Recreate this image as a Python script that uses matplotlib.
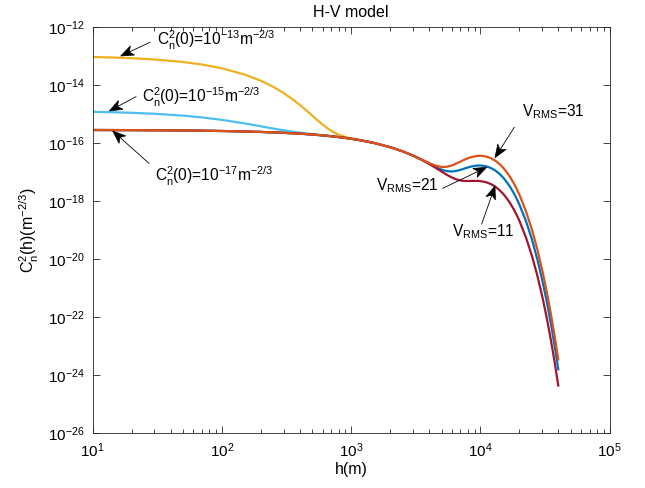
import matplotlib
matplotlib.use('Agg')
import matplotlib.pyplot as plt
from matplotlib.patches import Polygon
from matplotlib.lines import Line2D
from matplotlib.ticker import FixedLocator, NullLocator, LogLocator, NullFormatter
import math

plt.rcParams['font.family'] = ['Liberation Sans', 'DejaVu Sans']
plt.rcParams['mathtext.fontset'] = 'custom'
plt.rcParams['mathtext.rm'] = 'Liberation Sans'
plt.rcParams['mathtext.it'] = 'Liberation Sans:italic'
plt.rcParams['mathtext.bf'] = 'Liberation Sans:bold'

# ---------------- data ----------------
h = [10, 15, 20, 30, 50, 70, 100, 150, 200, 250, 300, 350, 400, 450, 500,
     550, 600, 650, 700, 750, 800, 900, 1000, 1200, 1500, 2000, 2500, 3000,
     3500, 4000, 4500, 5000, 5500, 6000, 6500, 7000, 7500, 8000, 8500, 9000,
     9500, 10000, 11000, 12000, 13000, 14000, 15000, 16000, 17000, 18000,
     19000, 20000, 22500, 25000, 27500, 30000, 32500, 35000, 37500, 40000]

cn2_a13 = [9.075e-14, 8.634e-14, 8.214e-14, 7.435e-14, 6.091e-14, 4.992e-14,
           3.704e-14, 2.256e-14, 1.377e-14, 8.437e-15, 5.200e-15, 3.234e-15,
           2.038e-15, 1.311e-15, 8.673e-16, 5.958e-16, 4.289e-16, 3.253e-16,
           2.605e-16, 2.191e-16, 1.919e-16, 1.605e-16, 1.431e-16, 1.219e-16,
           9.93e-17]

cn2_a15 = [1.1730e-15, 1.1280e-15, 1.0851e-15, 1.0055e-15, 8.676e-16, 7.543e-16,
           6.205e-16, 4.674e-16, 3.716e-16, 3.107e-16, 2.709e-16, 2.440e-16,
           2.251e-16, 2.111e-16, 2.002e-16, 1.912e-16, 1.835e-16, 1.765e-16,
           1.702e-16, 1.643e-16, 1.587e-16, 1.483e-16, 1.3865e-16, 1.2131e-16,
           9.93e-17]

cn2_v11 = [2.773e-16, 2.759e-16, 2.746e-16, 2.721e-16, 2.672e-16, 2.627e-16,
           2.563e-16, 2.465e-16, 2.377e-16, 2.294e-16, 2.216e-16, 2.141e-16,
           2.070e-16, 2.001e-16, 1.936e-16, 1.871e-16, 1.810e-16, 1.750e-16,
           1.693e-16, 1.638e-16, 1.584e-16, 1.482e-16, 1.386e-16, 1.213e-16,
           9.93e-17, 7.12e-17, 5.10e-17,
           3.653e-17, 2.626e-17, 1.895e-17, 1.3815e-17, 1.0280e-17, 7.922e-18,
           6.423e-18, 5.539e-18, 5.076e-18, 4.890e-18, 4.855e-18, 4.884e-18,
           4.912e-18, 4.899e-18, 4.820e-18, 4.447e-18, 3.841e-18, 3.119e-18,
           2.395e-18, 1.751e-18, 1.226e-18, 8.261e-19, 5.378e-19, 3.395e-19,
           2.085e-19, 5.547e-20, 1.306e-20, 2.780e-21, 5.448e-22, 9.955e-23,
           1.715e-23, 2.806e-24, 4.392e-25]

cn2_v21 = [2.773e-16, 2.759e-16, 2.746e-16, 2.721e-16, 2.672e-16, 2.627e-16,
           2.563e-16, 2.465e-16, 2.377e-16, 2.294e-16, 2.216e-16, 2.141e-16,
           2.070e-16, 2.001e-16, 1.936e-16, 1.871e-16, 1.810e-16, 1.750e-16,
           1.693e-16, 1.638e-16, 1.584e-16, 1.482e-16, 1.386e-16, 1.213e-16,
           9.93e-17, 7.12e-17, 5.10e-17,
           3.661e-17, 2.648e-17, 1.945e-17, 1.4801e-17, 1.1995e-17, 1.0621e-17,
           1.0331e-17, 1.0816e-17, 1.1792e-17, 1.3011e-17, 1.4247e-17, 1.5328e-17,
           1.6132e-17, 1.6584e-17, 1.6658e-17, 1.5743e-17, 1.3761e-17, 1.1243e-17,
           8.667e-18, 6.351e-18, 4.453e-18, 3.002e-18, 1.956e-18, 1.235e-18,
           7.589e-19, 2.022e-19, 4.759e-20, 1.013e-20, 1.986e-21, 3.628e-22,
           6.250e-23, 1.023e-23, 1.601e-24]

cn2_v31 = [2.773e-16, 2.759e-16, 2.746e-16, 2.721e-16, 2.672e-16, 2.627e-16,
           2.563e-16, 2.465e-16, 2.377e-16, 2.294e-16, 2.216e-16, 2.141e-16,
           2.070e-16, 2.001e-16, 1.936e-16, 1.871e-16, 1.810e-16, 1.750e-16,
           1.693e-16, 1.638e-16, 1.584e-16, 1.482e-16, 1.386e-16, 1.213e-16,
           9.93e-17, 7.12e-17, 5.10e-17,
           3.673e-17, 2.683e-17, 2.026e-17, 1.6404e-17, 1.4783e-17, 1.5007e-17,
           1.6681e-17, 1.9392e-17, 2.2706e-17, 2.6208e-17, 2.9509e-17, 3.2301e-17,
           3.4364e-17, 3.5573e-17, 3.5894e-17, 3.4097e-17, 2.9880e-17, 2.4446e-17,
           1.8858e-17, 1.3825e-17, 9.695e-18, 6.538e-18, 4.260e-18, 2.691e-18,
           1.653e-18, 4.406e-19, 1.037e-19, 2.208e-20, 4.327e-21, 7.907e-22,
           1.362e-22, 2.229e-23, 3.488e-24]

x_ticks = [1e1, 1e2, 1e3, 1e4, 1e5]
x_ticklabels = [r'$10^{1}$', r'$10^{2}$', r'$10^{3}$', r'$10^{4}$', r'$10^{5}$']
y_ticks = [1e-26, 1e-24, 1e-22, 1e-20, 1e-18, 1e-16, 1e-14, 1e-12]
y_ticklabels = [r'$10^{-26}$', r'$10^{-24}$', r'$10^{-22}$', r'$10^{-20}$',
                r'$10^{-18}$', r'$10^{-16}$', r'$10^{-14}$', r'$10^{-12}$']

# ---------------- figure ----------------
W, H = 645, 488
fig = plt.figure(figsize=(W / 100, H / 100), dpi=100)
ax = fig.add_axes([92.7 / W, 1 - 433.3 / H, (609.7 - 92.7) / W, (433.3 - 26.7) / H])

lw = 1.6
ax.loglog(h[:len(cn2_a13)], cn2_a13, color='#EDB120', lw=lw)
ax.loglog(h[:len(cn2_a15)], cn2_a15, color='#4DBEEE', lw=lw)
ax.loglog(h, cn2_v21, color='#0072BD', lw=lw)
ax.loglog(h, cn2_v11, color='#A2142F', lw=lw)
ax.loglog(h, cn2_v31, color='#D95319', lw=lw)

ax.set_xlim(1e1, 1e5)
ax.set_ylim(1e-26, 1e-12)
ax.xaxis.set_major_locator(FixedLocator(x_ticks))
ax.set_xticklabels(x_ticklabels)
ax.xaxis.set_minor_locator(LogLocator(base=10, subs=range(2, 10)))
ax.xaxis.set_minor_formatter(NullFormatter())
ax.yaxis.set_major_locator(FixedLocator(y_ticks))
ax.set_yticklabels(y_ticklabels)
ax.yaxis.set_minor_locator(NullLocator())

axc = '#262626'
for s in ax.spines.values():
    s.set_color(axc)
    s.set_linewidth(0.6)
ax.tick_params(which='both', direction='in', top=True, right=True, color=axc,
               labelcolor='black', labelsize=11, width=0.6)
ax.tick_params(which='major', length=5, pad=6)
ax.tick_params(which='minor', length=3)

ax.set_title('H-V model', fontsize=11.5, pad=7)
ax.set_xlabel('h(m)', fontsize=11.5, labelpad=1)
ax.set_ylabel(r'C$\mathregular{_n^2}$(h)(m$\mathregular{^{-2/3}}$)', fontsize=11.5, labelpad=5)


def P(px, py):
    return (px / W, 1 - py / H)


def draw_arrow(tail, tip, L=13.0, w=5.0, notch=3.5):
    ux, uy = tip[0] - tail[0], tip[1] - tail[1]
    n = math.hypot(ux, uy)
    ux, uy = ux / n, uy / n
    px_, py_ = -uy, ux
    bx, by = tip[0] - L * ux, tip[1] - L * uy
    nx, ny = tip[0] - (L - notch) * ux, tip[1] - (L - notch) * uy
    fig.add_artist(Line2D([P(*tail)[0], P(nx, ny)[0]], [P(*tail)[1], P(nx, ny)[1]],
                          transform=fig.transFigure, color='black', lw=0.6))
    pts = [P(*tip), P(bx + w * px_, by + w * py_), P(nx, ny), P(bx - w * px_, by - w * py_)]
    fig.add_artist(Polygon(pts, closed=True, transform=fig.transFigure,
                           facecolor='black', edgecolor='black', lw=0.5))


annots = [
    # text, text pos (left, center-y), arrow tail, arrow tip
    (r'C$\mathregular{_n^2}$(0)=10$\mathregular{^{-13}}$m$\mathregular{^{-2/3}}$', (156.7, 40), (150, 42.3), (120.7, 56)),
    (r'C$\mathregular{_n^2}$(0)=10$\mathregular{^{-15}}$m$\mathregular{^{-2/3}}$', (141.7, 97), (136, 96.7), (109.3, 111)),
    (r'C$\mathregular{_n^2}$(0)=10$\mathregular{^{-17}}$m$\mathregular{^{-2/3}}$', (155, 176), (149, 163.3), (112.7, 131)),
    (r'V$\mathregular{_{RMS}}$=31', (521.7, 112), (514.3, 127.3), (495, 157.7)),
    (r'V$\mathregular{_{RMS}}$=21', (376, 186), (442.7, 188.3), (486.7, 167.3)),
    (r'V$\mathregular{_{RMS}}$=11', (451.7, 232), (481.7, 224), (495, 186)),
]
for txt, tpos, tail, tip in annots:
    fig.text(*P(*tpos), txt, ha='left', va='center', fontsize=11.2)
    draw_arrow(tail, tip)

fig.savefig('out.png', dpi=100)
